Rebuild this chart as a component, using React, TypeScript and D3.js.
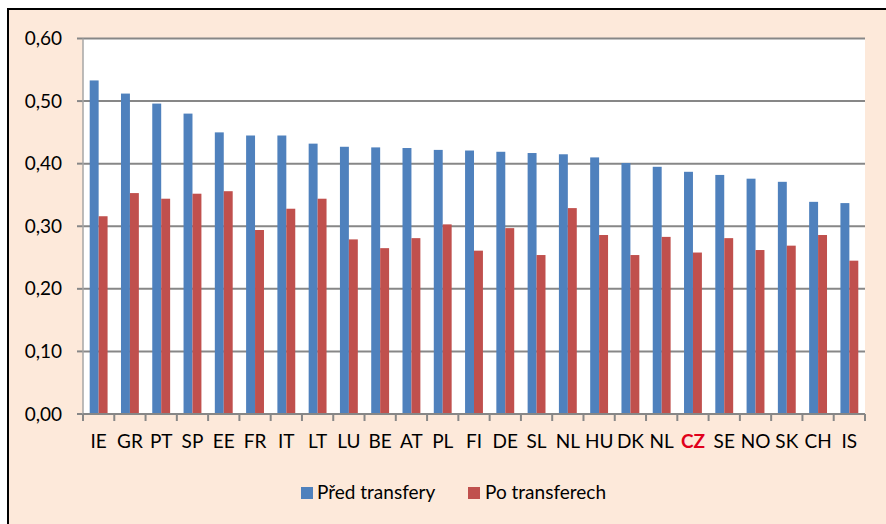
import React from "react";
import * as d3 from "d3";

const categories = ["IE","GR","PT","SP","EE","FR","IT","LT","LU","BE","AT","PL","FI","DE","SL","NL","HU","DK","NL","CZ","SE","NO","SK","CH","IS"];
const predTransfery = [0.533,0.512,0.496,0.480,0.450,0.445,0.445,0.432,0.427,0.426,0.425,0.422,0.421,0.419,0.417,0.415,0.410,0.401,0.395,0.387,0.382,0.376,0.371,0.339,0.337];
const poTransferech = [0.316,0.353,0.344,0.352,0.356,0.294,0.328,0.344,0.279,0.265,0.281,0.303,0.261,0.297,0.254,0.329,0.286,0.254,0.283,0.258,0.281,0.262,0.269,0.286,0.245];
const seriesNames = ["Před transfery", "Po transferech"];
const seriesColors = ["#4F81BD", "#C0504D"];
const yTicks = [0, 0.1, 0.2, 0.3, 0.4, 0.5, 0.6];
const highlight = "CZ";

const W = 886, H = 524;
const plot = { left: 83, right: 865, top: 38.5, bottom: 414 };
const FONT = "Lato, 'Open Sans', sans-serif";
const FS = 19;

export default function App() {
  const x0 = d3.scaleBand<number>().domain(d3.range(categories.length)).range([plot.left, plot.right]).padding(0);
  const bw = x0.bandwidth();
  const gap = (bw * 1.5) / 3.5;
  const x1 = d3.scaleBand<number>().domain([0, 1]).range([gap / 2, bw - gap / 2]).padding(0);
  const y = d3.scaleLinear().domain([0, 0.6]).range([plot.bottom, plot.top]);
  const fmt = (v: number) => d3.format(".2f")(v).replace(".", ",");
  const series = [predTransfery, poTransferech];
  const boundaries = d3.range(categories.length + 1).map((i) => plot.left + i * bw);

  return (
    <svg width={W} height={H} style={{ position: "absolute", left: 0, top: 0, display: "block" }}>
      <rect x={0} y={0} width={W} height={H} fill="#ffffff" />
      <rect x={8} y={9} width={W} height={H} fill="#FDE9DA" stroke="#000" strokeWidth={2} />
      <rect x={plot.left} y={plot.top} width={plot.right - plot.left} height={plot.bottom - plot.top} fill="#ffffff" />
      {yTicks.map((t) => (
        <g key={t}>
          {t > 0 && (
            <line x1={plot.left} x2={plot.right} y1={y(t)} y2={y(t)} stroke="#878787" strokeWidth={2} />
          )}
          <line x1={plot.left - 6} x2={plot.left} y1={y(t)} y2={y(t)} stroke="#878787" strokeWidth={2} />
          <text x={62} y={y(t) + 6.5} textAnchor="end" fontFamily={FONT} fontSize={FS} fill="#000">
            {fmt(t)}
          </text>
        </g>
      ))}
      {series.map((vals, si) =>
        vals.map((v, i) => (
          <rect
            key={`${si}-${i}`}
            x={(x0(i) as number) + (x1(si) as number)}
            y={y(v)}
            width={x1.bandwidth()}
            height={y(0) - y(v)}
            fill={seriesColors[si]}
          />
        ))
      )}
      <line x1={plot.left} x2={plot.left} y1={plot.top} y2={plot.bottom} stroke="#A6A6A6" strokeWidth={1.5} />
      <line x1={plot.left} x2={plot.right} y1={plot.bottom} y2={plot.bottom} stroke="#878787" strokeWidth={2} />
      {boundaries.map((bx, i) => (
        <line key={i} x1={bx} x2={bx} y1={plot.bottom} y2={plot.bottom + 7} stroke="#878787" strokeWidth={2} />
      ))}
      {categories.map((c, i) => (
        <text
          key={i}
          x={(x0(i) as number) + bw / 2}
          y={448}
          textAnchor="middle"
          fontFamily={FONT}
          fontSize={FS}
          fontWeight={c === highlight ? 700 : 400}
          fill={c === highlight ? "#E0001B" : "#000"}
        >
          {c}
        </text>
      ))}
      <g>
        <rect x={301} y={487} width={12} height={12} fill={seriesColors[0]} />
        <text x={317} y={499} fontFamily={FONT} fontSize={FS} fill="#000">{seriesNames[0]}</text>
        <rect x={468} y={487} width={12} height={12} fill={seriesColors[1]} />
        <text x={485} y={499} fontFamily={FONT} fontSize={FS} fill="#000">{seriesNames[1]}</text>
      </g>
    </svg>
  );
}
